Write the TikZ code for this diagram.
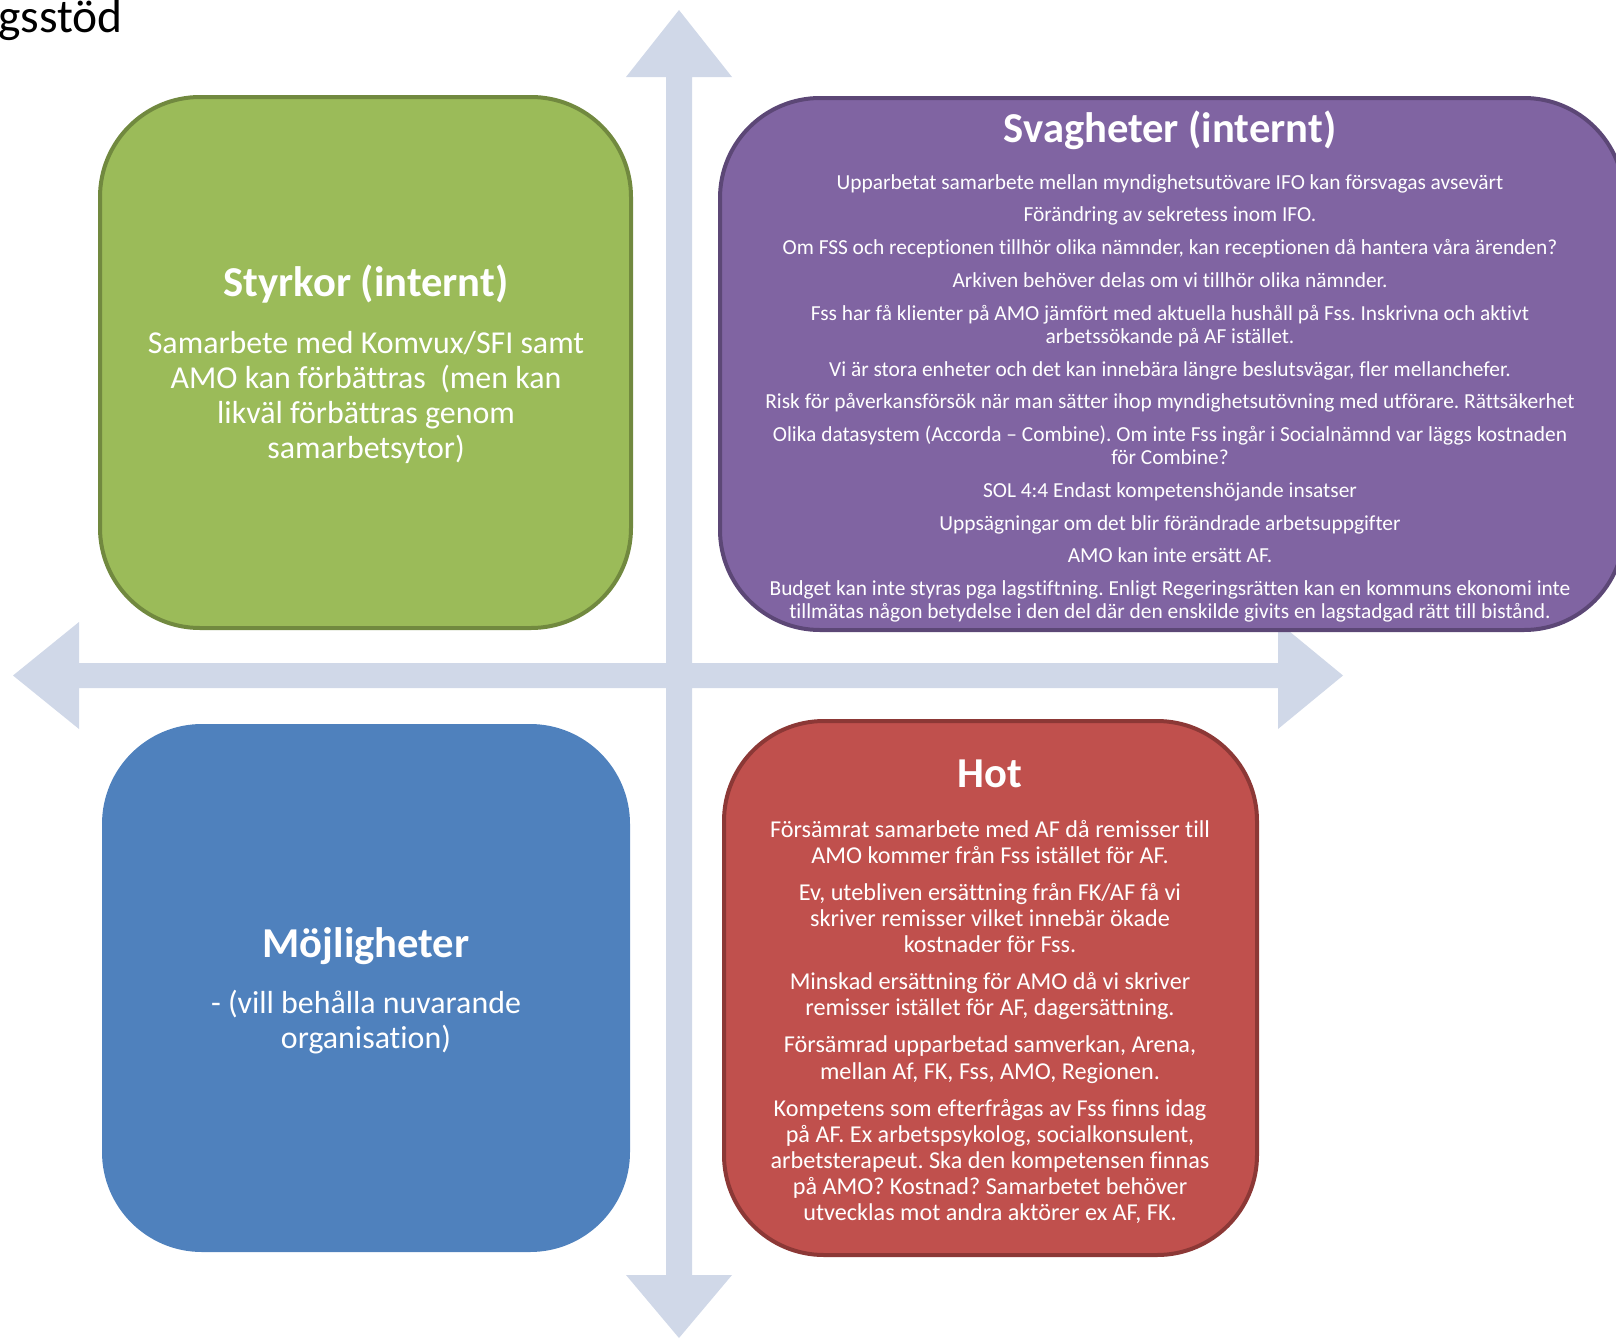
\documentclass[tikz,border=0pt]{standalone}
\usepackage{fontspec}
\setmainfont[Ligatures=NoCommon]{Carlito}
\frenchspacing
\usepackage{xcolor}
\usepackage{tikz}
\usetikzlibrary{positioning}
\definecolor{swink}{HTML}{000000}
\definecolor{swaxis}{HTML}{D0D8E8}
\definecolor{swgreen}{HTML}{9BBB59}
\definecolor{swgreenline}{HTML}{71893F}
\definecolor{swpurple}{HTML}{8064A2}
\definecolor{swpurpleline}{HTML}{5C4776}
\definecolor{swblue}{HTML}{4F81BD}
\definecolor{swred}{HTML}{C0504D}
\definecolor{swredline}{HTML}{8C3836}
\tikzset{
  quad/.style={rectangle,rounded corners=100pt,line width=4pt,inner sep=0pt},
  head/.style={inner sep=0pt,text=white,font=\fontsize{42.6}{50}\selectfont\bfseries},
  body/.style={inner sep=0pt,text=white,align=center},
}
\begin{document}
\begin{tikzpicture}[x=1pt,y=-1pt]
  \useasboundingbox (0,0) rectangle (1616,1338);
  \node[anchor=base west,inner sep=0pt,text=swink,font=\fontsize{47.5}{56}\selectfont] (page) at (-2,33) {gsstöd};
  % axes
  \fill[swaxis] (13,675.5) -- (79,622) -- (79,663) -- (666,663) -- (666,77) -- (626,77)
    -- (679,10) -- (732,77) -- (692,77) -- (692,663) -- (1278,663) -- (1278,622)
    -- (1343,675.5) -- (1278,729) -- (1278,688) -- (692,688) -- (692,1275) -- (732,1275)
    -- (679,1338) -- (626,1275) -- (666,1275) -- (666,688) -- (79,688) -- (79,729) -- cycle;
  % quadrants
  \node[quad,draw=swgreenline,fill=swgreen,minimum width=531pt,minimum height=531pt] (str) at (365.5,362.5) {};
  \node[quad,draw=swpurpleline,fill=swpurple,minimum width=904pt,minimum height=532pt] (wea) at (1172,364) {};
  \node[quad,fill=swblue,minimum width=528pt,minimum height=528pt] (opp) at (366,988) {};
  \node[quad,draw=swredline,fill=swred,minimum width=533pt,minimum height=534pt] (thr) at (990.5,988) {};

  \node[head] (strh) at (366,284) {Styrkor (internt)};
  \node[body,font=\fontsize{31.9}{35}\selectfont] (strb) at (366,397)
    {Samarbete med Komvux/SFI samt\\AMO kan förbättras~ (men kan\\likväl förbättras genom\\samarbetsytor)};

  \node[head] (weah) at (1170,130) {Svagheter (internt)};
  \node[body,font=\fontsize{21.4}{23.3}\selectfont] (weab) at (1170,398.5)
    {Upparbetat samarbete mellan myndighetsutövare IFO kan försvagas avsevärt\\[9.4pt]
     Förändring av sekretess inom IFO.\\[9.4pt]
     Om FSS och receptionen tillhör olika nämnder, kan receptionen då hantera våra ärenden?\\[9.4pt]
     Arkiven behöver delas om vi tillhör olika nämnder.\\[9.4pt]
     Fss har få klienter på AMO jämfört med aktuella hushåll på Fss. Inskrivna och aktivt\\arbetssökande på AF istället.\\[9.4pt]
     Vi är stora enheter och det kan innebära längre beslutsvägar, fler mellanchefer.\\[9.4pt]
     Risk för påverkansförsök när man sätter ihop myndighetsutövning med utförare. Rättsäkerhet\\[9.4pt]
     Olika datasystem (Accorda – Combine). Om inte Fss ingår i Socialnämnd var läggs kostnaden\\för Combine?\\[9.4pt]
     SOL 4:4 Endast kompetenshöjande insatser\\[9.4pt]
     Uppsägningar om det blir förändrade arbetsuppgifter\\[9.4pt]
     AMO kan inte ersätt AF.\\[9.4pt]
     Budget kan inte styras pga lagstiftning. Enligt Regeringsrätten kan en kommuns ekonomi inte\\tillmätas någon betydelse i den del där den enskilde givits en lagstadgad rätt till bistånd.};

  \node[head] (opph) at (366,946) {Möjligheter};
  \node[body,font=\fontsize{31.9}{35}\selectfont] (oppb) at (366,1022.5)
    {- (vill behålla nuvarande\\organisation)};

  \node[head] (thrh) at (990,774) {Hot};
  \node[body,font=\fontsize{24.2}{26.2}\selectfont] (thrb) at (990,1022)
    {Försämrat samarbete med AF då remisser till\\AMO kommer från Fss istället för AF.\\[10.8pt]
     Ev, utebliven ersättning från FK/AF få vi\\skriver remisser vilket innebär ökade\\kostnader för Fss.\\[10.8pt]
     Minskad ersättning för AMO då vi skriver\\remisser istället för AF, dagersättning.\\[10.8pt]
     Försämrad upparbetad samverkan, Arena,\\mellan Af, FK, Fss, AMO, Regionen.\\[10.8pt]
     Kompetens som efterfrågas av Fss finns idag\\på AF. Ex arbetspsykolog, socialkonsulent,\\arbetsterapeut. Ska den kompetensen finnas\\på AMO? Kostnad? Samarbetet behöver\\utvecklas mot andra aktörer ex AF, FK.};
\end{tikzpicture}
\end{document}
